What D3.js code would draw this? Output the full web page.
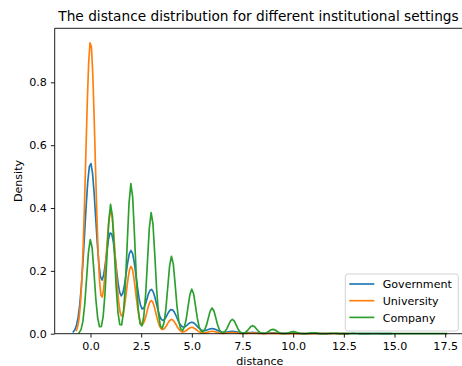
<!DOCTYPE html>
<html>
<head>
<meta charset="utf-8">
<script src="https://cdn.jsdelivr.net/npm/d3@7"></script>
<style>
  html, body { margin: 0; padding: 0; background: #fff; }
  svg { display: block; font-family: "DejaVu Sans", sans-serif; }
</style>
</head>
<body>
<svg id="chart" width="462" height="366"></svg>
<script>
// Share of records (%) at each integer distance, per institutional setting
const distances = d3.range(0, 18);
const governmentShare = [38.2, 22.6, 18.6, 9.9, 5.4, 2.54, 1.13, 0.53, 0.28, 0.18, 0.10, 0.05, 0.05, 0.05, 0.05];
const universityShare = [53.9, 22.5, 12.4, 6.11, 2.62, 1.16, 0.44, 0.23, 0.12, 0.06, 0.03, 0.03, 0.03];
const companyShare    = [14.03, 19.25, 22.33, 18.0, 11.52, 6.62, 3.82, 2.14, 1.19, 0.65, 0.30, 0.14, 0.07, 0.04, 0.02, 0.02, 0.01, 0.01];

// KDE bandwidths (in distance units) per setting
const bandwidths = [0.282, 0.232, 0.186];

const seriesNames  = ["Government", "University", "Company"];
const seriesColors = ["#1f77b4", "#ff7f0e", "#2ca02c"];
const seriesShares = [governmentShare, universityShare, companyShare];

const xTicks = [0, 2.5, 5, 7.5, 10, 12.5, 15, 17.5];
const yTicks = [0, 0.2, 0.4, 0.6, 0.8];

// Gaussian KDE over the weighted integer distances, cut at 3 bandwidths, 200 grid points
function kde(shares, bw) {
  const total = d3.sum(shares);
  const pts = shares.map((s, i) => ({ x: distances[i], w: s / total })).filter(p => p.w > 0);
  const lo = d3.min(pts, p => p.x) - 3 * bw;
  const hi = d3.max(pts, p => p.x) + 3 * bw;
  const n = 200;
  const norm = 1 / (bw * Math.sqrt(2 * Math.PI));
  return d3.range(n).map(i => {
    const x = lo + (hi - lo) * i / (n - 1);
    const y = d3.sum(pts, p => p.w * norm * Math.exp(-0.5 * ((x - p.x) / bw) ** 2));
    return [x, y];
  });
}

const curves = seriesShares.map((s, i) => ({
  name: seriesNames[i], color: seriesColors[i], values: kde(s, bandwidths[i])
}));

const svg = d3.select("#chart");
const plot = { left: 54.7, right: 465, top: 28.3, bottom: 333.7 };
const fontSize = 11.1;

const xMin = d3.min(curves, c => c.values[0][0]);
const xMax = d3.max(curves, c => c.values[c.values.length - 1][0]);
const xPad = (xMax - xMin) * 0.05;
const yMax = d3.max(curves, c => d3.max(c.values, v => v[1])) * 1.05;

const x = d3.scaleLinear().domain([xMin - xPad, xMax + xPad]).range([plot.left, plot.right]);
const y = d3.scaleLinear().domain([0, yMax]).range([plot.bottom, plot.top]);

const line = d3.line().x(d => x(d[0])).y(d => y(d[1]));

// density curves
svg.append("g").selectAll("path").data(curves).join("path")
  .attr("d", c => line(c.values))
  .attr("fill", "none")
  .attr("stroke", c => c.color)
  .attr("stroke-width", 1.67)
  .attr("stroke-linejoin", "round")
  .attr("stroke-linecap", "square");

// axes
const xAxis = d3.axisBottom(x).tickValues(xTicks).tickFormat(d3.format(".1f")).tickSize(3.9).tickPadding(4.2);
const yAxis = d3.axisLeft(y).tickValues(yTicks).tickFormat(d3.format(".1f")).tickSize(3.9).tickPadding(3.9);

const gx = svg.append("g").attr("transform", `translate(0,${plot.bottom})`).call(xAxis);
const gy = svg.append("g").attr("transform", `translate(${plot.left},0)`).call(yAxis);
[gx, gy].forEach(g => {
  g.select(".domain").remove();
  g.selectAll(".tick line").attr("stroke", "#000").attr("stroke-width", 0.89);
  g.selectAll(".tick text").attr("fill", "#000").style("font-size", fontSize + "px").style("font-family", "DejaVu Sans");
});

// spines
const spine = svg.append("g").attr("stroke", "#000").attr("stroke-width", 0.89).attr("fill", "none");
spine.append("line").attr("x1", plot.left).attr("x2", plot.left).attr("y1", plot.top).attr("y2", plot.bottom);
spine.append("line").attr("x1", plot.left).attr("x2", plot.right).attr("y1", plot.bottom).attr("y2", plot.bottom);
spine.append("line").attr("x1", plot.left).attr("x2", plot.right).attr("y1", plot.top).attr("y2", plot.top);
spine.append("line").attr("x1", plot.right).attr("x2", plot.right).attr("y1", plot.top).attr("y2", plot.bottom);

// title and axis labels
svg.append("text").attr("x", 258.5).attr("y", 21).attr("text-anchor", "middle")
  .style("font-size", "13.7px").text("The distance distribution for different institutional settings");
svg.append("text").attr("x", (plot.left + plot.right) / 2).attr("y", 365.4).attr("text-anchor", "middle")
  .style("font-size", fontSize + "px").text("distance");
svg.append("text").attr("transform", `translate(22,${(plot.top + plot.bottom) / 2}) rotate(-90)`)
  .attr("text-anchor", "middle").style("font-size", fontSize + "px").text("Density");

// legend
const legend = svg.append("g").attr("transform", "translate(345.3,274)");
legend.append("rect").attr("width", 113).attr("height", 57).attr("rx", 2.5)
  .attr("fill", "#fff").attr("fill-opacity", 0.8).attr("stroke", "#cccccc").attr("stroke-width", 0.89);
const items = legend.selectAll("g.item").data(curves).join("g")
  .attr("class", "item")
  .attr("transform", (d, i) => `translate(0,${10 + i * 16.7})`);
items.append("line").attr("x1", 4).attr("x2", 29).attr("stroke", d => d.color).attr("stroke-width", 1.67);
items.append("text").attr("x", 37.4).attr("y", 4.2).style("font-size", fontSize + "px").text(d => d.name);
</script>
</body>
</html>
